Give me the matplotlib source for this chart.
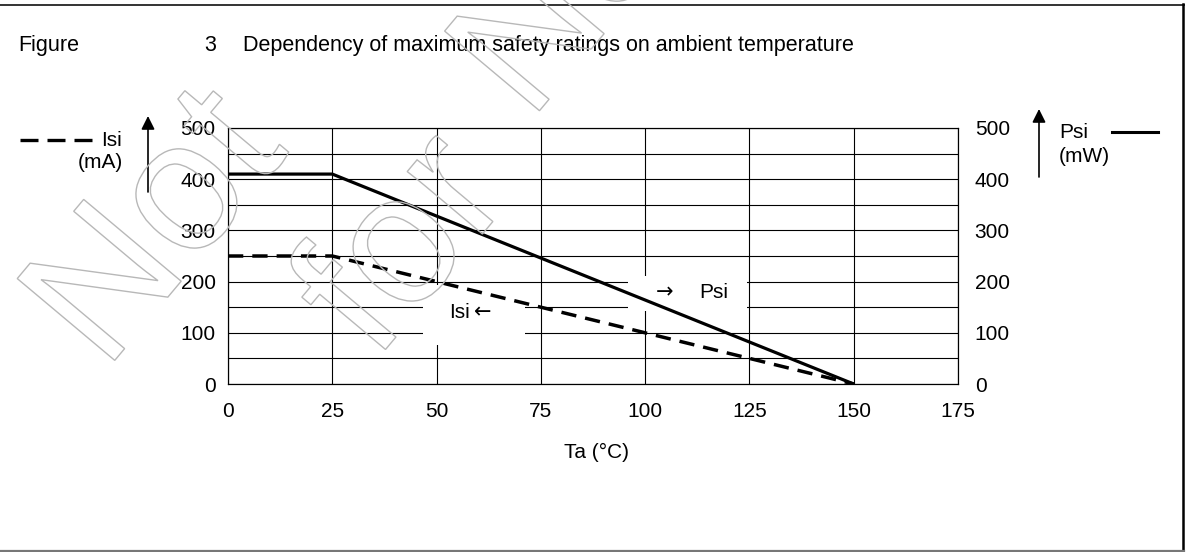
import matplotlib
matplotlib.use("Agg")
import matplotlib.pyplot as plt
from matplotlib.lines import Line2D
from matplotlib.patches import PathPatch, Rectangle
from matplotlib.textpath import TextPath
from matplotlib.font_manager import FontProperties
from matplotlib.transforms import Affine2D

# derating curves
ta_c = [0, 25, 150]
psi_mw = [410, 410, 0]
isi_ma = [250, 250, 0]

x_ticks = [0, 25, 50, 75, 100, 125, 150, 175]
y_ticks = [0, 100, 200, 300, 400, 500]
y_minor = [50, 150, 250, 350, 450]

fig_label = "Figure"
fig_number = "3"
fig_title = "Dependency of maximum safety ratings on ambient temperature"
watermark_words = ["Not", "for", "New"]

W, H = 1187, 552
FS = 15
ARROW_FONT = ['DejaVu Sans']
plt.rcParams['font.family'] = ['Liberation Sans', 'DejaVu Sans']


def fx(x):
    return x / W


def fy(y):
    return 1 - y / H


fig = plt.figure(figsize=(W / 100, H / 100), dpi=100)
ax = fig.add_axes([fx(228), fy(384), 730 / W, 256 / H])
ax.set_xlim(0, 175)
ax.set_ylim(0, 500)
ax.set_xticks(x_ticks)
ax.set_yticks(y_ticks)
ax.set_yticks(y_minor, minor=True)
ax.grid(True, which='both', color='black', lw=0.8)
ax.tick_params(which='both', length=0, labelsize=FS)
ax.tick_params(axis='y', pad=9)
ax.tick_params(axis='x', pad=13)
for s in ax.spines.values():
    s.set_linewidth(0.8)

ax2 = ax.twinx()
ax2.set_ylim(0, 500)
ax2.set_yticks(y_ticks)
ax2.tick_params(length=0, labelsize=FS, pad=12)
for s in ax2.spines.values():
    s.set_linewidth(0.8)

# white patches behind the in-plot labels
ax.add_patch(Rectangle((46.8, 76), 24.4, 117, facecolor='white', edgecolor='none', zorder=2))
ax.add_patch(Rectangle((95.9, 142), 28.5, 69, facecolor='white', edgecolor='none', zorder=2))

ax.plot(ta_c, psi_mw, color='black', lw=2.3, zorder=3, solid_capstyle='butt')
ax.plot(ta_c, isi_ma, color='black', lw=2.5, ls=(0, (4.4, 2.6)), zorder=3)

# in-plot labels with arrows
fig.text(fx(449), fy(313), "Isi", ha='left', va='center', fontsize=FS, zorder=5)
fig.text(fx(474), fy(312), "\u2190", ha='left', va='center', fontsize=FS,
         family=ARROW_FONT, zorder=5)
fig.text(fx(656), fy(292), "\u2192", ha='left', va='center', fontsize=FS,
         family=ARROW_FONT, zorder=5)
fig.text(fx(699), fy(293), "Psi", ha='left', va='center', fontsize=FS, zorder=5)

# axis label
fig.text(fx(597), fy(452), "Ta (°C)", ha='center', va='center', fontsize=FS)

# left legend / unit
fig.add_artist(Line2D([fx(20), fx(92)], [fy(140), fy(140)], color='black', lw=2.4,
                      ls=(0, (5.4, 2.7)), transform=fig.transFigure))
fig.text(fx(122), fy(140), "Isi", ha='right', va='center', fontsize=FS)
fig.text(fx(123), fy(162), "(mA)", ha='right', va='center', fontsize=FS)
ax.annotate("", xy=(148, H - 116), xytext=(148, H - 192), xycoords='figure pixels',
            textcoords='figure pixels',
            arrowprops=dict(arrowstyle='-|>', color='black', lw=1.2, mutation_scale=20,
                            shrinkA=0, shrinkB=0))

# right legend / unit
fig.add_artist(Line2D([fx(1112), fx(1158)], [fy(132), fy(132)], color='black', lw=2.2,
                      transform=fig.transFigure))
fig.text(fx(1059), fy(133), "Psi", ha='left', va='center', fontsize=FS)
fig.text(fx(1059), fy(157), "(mW)", ha='left', va='center', fontsize=FS)
ax.annotate("", xy=(1039, H - 109), xytext=(1039, H - 177), xycoords='figure pixels',
            textcoords='figure pixels',
            arrowprops=dict(arrowstyle='-|>', color='black', lw=1.2, mutation_scale=20,
                            shrinkA=0, shrinkB=0))

# title row, all on one baseline
fig.text(fx(18), fy(51), fig_label, ha='left', va='baseline', fontsize=15.5)
fig.text(fx(204), fy(51), fig_number, ha='left', va='baseline', fontsize=15.5)
fig.text(fx(243), fy(51), fig_title, ha='left', va='baseline', fontsize=15.5)

# page frame
fig.add_artist(Line2D([0, fx(1184)], [fy(4.5), fy(4.5)], color='#333333', lw=1.4,
                      transform=fig.transFigure))
fig.add_artist(Line2D([fx(1183), fx(1183)], [fy(4), fy(551)], color='black', lw=1.8,
                      transform=fig.transFigure))
fig.add_artist(Line2D([0, fx(1184)], [fy(550.5), fy(550.5)], color='#777777', lw=1.6,
                      transform=fig.transFigure))

# outlined watermark
wm_font = FontProperties(family='Liberation Sans')
wm_pos = [(105, 372, 185), (375, 362, 185), (530, 122, 180)]
for word, (x0, y0, em) in zip(watermark_words, wm_pos):
    tp = TextPath((0, 0), word, size=1, prop=wm_font)
    tr = Affine2D().scale(em).rotate_deg(50).translate(x0, H - y0)
    fig.add_artist(PathPatch(tp, transform=tr, facecolor='none', edgecolor='#b8b8b8',
                             lw=1.0, zorder=10))

fig.savefig("out.png", dpi=100)
